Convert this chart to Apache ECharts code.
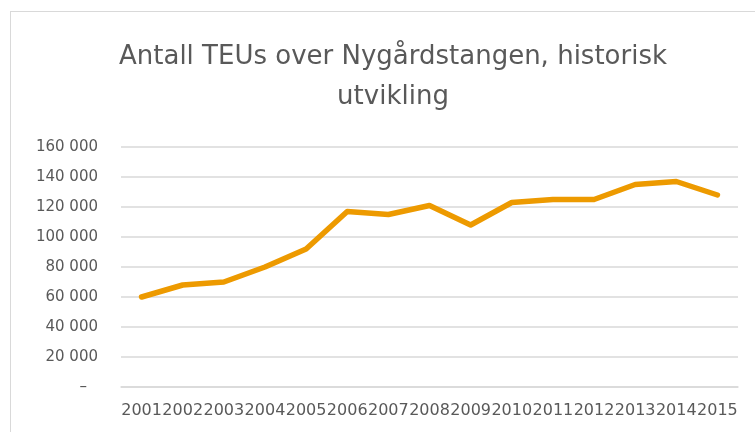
<!DOCTYPE html>
<html>
<head>
<meta charset="utf-8">
<script src="https://cdn.jsdelivr.net/npm/echarts@6/dist/echarts.min.js"></script>
<style>
html,body{margin:0;padding:0;background:#fff;overflow:hidden;}
#wrap{position:relative;width:755px;height:432px;overflow:hidden;}
#frame{position:absolute;left:10px;top:11px;width:800px;height:500px;border:1.5px solid #d9d9d9;box-sizing:border-box;}
#chart{position:absolute;left:0;top:0;width:755px;height:432px;}
</style>
</head>
<body>
<div id="wrap"><div id="frame"></div><div id="chart"></div></div>
<script>
const titleText = 'Antall TEUs over Nygårdstangen, historisk\nutvikling';
const years = ['2001','2002','2003','2004','2005','2006','2007','2008','2009','2010','2011','2012','2013','2014','2015'];
const teus = [60000, 68000, 70000, 80000, 92000, 117000, 115000, 121000, 108000, 123000, 125000, 125000, 135000, 137000, 128000];
const yTicks = [0, 20000, 40000, 60000, 80000, 100000, 120000, 140000, 160000];

const chart = echarts.init(document.getElementById('chart'), null, {renderer:'canvas'});
chart.setOption({
  backgroundColor: 'transparent',
  animation: false,
  title: {
    text: titleText,
    left: 388,
    textAlign: 'center',
    top: 32,
    textStyle: {fontFamily: 'DejaVu Sans', fontSize: 26, fontWeight: 'normal', color: '#595959', lineHeight: 40}
  },
  grid: {left: 121, right: 17, top: 147, bottom: 45, containLabel: false},
  xAxis: {
    type: 'category',
    data: years,
    boundaryGap: true,
    axisLine: {show: true, lineStyle: {color: '#d9d9d9', width: 1.5}},
    axisTick: {show: false},
    axisLabel: {interval: 0, margin: 16, color: '#595959', fontFamily: 'DejaVu Sans', fontSize: 16}
  },
  yAxis: {
    type: 'value',
    min: yTicks[0],
    max: yTicks[yTicks.length-1],
    interval: yTicks[1]-yTicks[0],
    axisLine: {show: false},
    axisTick: {show: false},
    splitLine: {lineStyle: {color: '#d9d9d9', width: 1.5}},
    axisLabel: {
      margin: 23,
      color: '#595959', fontFamily: 'DejaVu Sans', fontSize: 15,
      formatter: function(v){
        if (v === 0) return '{d|–}';
        return String(v).replace(/\B(?=(\d{3})+(?!\d))/g, ' ');
      },
      rich: {d: {padding: [0, 11, 0, 0], color: '#595959', fontFamily: 'DejaVu Sans', fontSize: 15}}
    }
  },
  series: [{
    type: 'line',
    data: teus,
    symbol: 'none',
    lineStyle: {color: '#ed9a00', width: 5.5, cap: 'round', join: 'round'}
  }]
});
</script>
</body>
</html>
